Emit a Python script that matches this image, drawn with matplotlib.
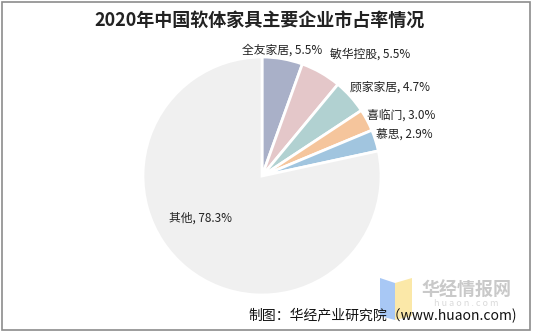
import numpy as np
import matplotlib
matplotlib.use("Agg")
import matplotlib.pyplot as plt
from matplotlib.patches import Rectangle, Polygon

plt.rcParams['font.family'] = ['Noto Sans CJK SC', 'DejaVu Sans']

# ---- data ----
companies = ['全友家居', '敏华控股', '顾家家居', '喜临门', '慕思', '其他']
shares = [5.5, 5.5, 4.7, 3.0, 2.9, 78.3]
colors = ['#A9B0C8', '#E4C7C9', '#B1D1D1', '#F5C59C', '#A1C5DF', '#F0F0F0']
title = '2020年中国软体家具主要企业市占率情况'
source = '制图：华经产业研究院（www.huaon.com)'

W, H = 535, 336
fig = plt.figure(figsize=(W / 100, H / 100), dpi=100)
ax = fig.add_axes([0, 0, 1, 1])

cx, cy, R = 262, H - 176, 119
wedges, _ = ax.pie(shares, colors=colors, startangle=90, counterclock=False,
                   center=(cx, cy), radius=R, frame=True,
                   wedgeprops=dict(edgecolor='white', linewidth=2))
ax.set_xlim(0, W)
ax.set_ylim(0, H)
ax.set_aspect('equal')
ax.axis('off')

# label placement (angle offset in degrees, radius factor, ha)
label_style = [(1, 1.07, 'center'), (0.5, 1.17, 'left'), (3.5, 1.05, 'left'),
               (2, 1.02, 'left'), (2.5, 1.02, 'left'), (-17, 0.63, 'center')]
cum = np.cumsum([0] + shares)
for i, (name, v) in enumerate(zip(companies, shares)):
    mid = 90 - (cum[i] + v / 2) * 3.6
    da, rf, ha = label_style[i]
    th = np.deg2rad(mid + da)
    x = cx + rf * R * np.cos(th)
    y = cy + rf * R * np.sin(th)
    ax.text(x, y, f'{name}, {v:.1f}%', ha=ha, va='center', fontsize=8.5,
            color='#222222')

# title
ax.text(260, H - 20, title, ha='center', va='center', fontsize=13,
        fontweight='bold', color='#222222')

# watermark logo
ax.add_patch(Polygon([[380, H - 278], [395, H - 283], [395, H - 320], [380, H - 316]],
                     closed=True, facecolor='#A8C8F5', edgecolor='none'))
ax.add_patch(Polygon([[395, H - 283], [412, H - 278], [412, H - 316], [395, H - 320]],
                     closed=True, facecolor='#FBE8A8', edgecolor='none'))
ax.text(466, H - 290, '华经情报网', ha='center', va='center', fontsize=13,
        fontweight='bold', color='#C9C9C9')
ax.text(466, H - 304, 'h u a o n . c o m', ha='center', va='center', fontsize=6.5,
        color='#DADADA')

# source
ax.text(517, H - 316, source, ha='right', va='center', fontsize=10,
        color='#111111')

# border
ax.add_patch(Rectangle((2, H - 330), 528, 328, fill=False, edgecolor='#8C8C8C',
                       linewidth=1.2))

fig.savefig('out.png', dpi=100)
